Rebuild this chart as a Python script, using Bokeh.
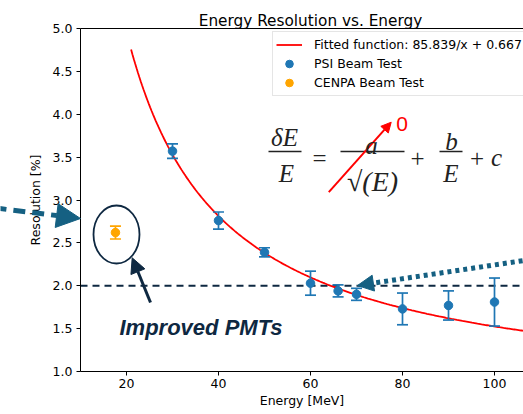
import numpy as np
from bokeh.plotting import figure
from bokeh.models import (Range1d, FixedTicker, LinearAxis, Label, Arrow, NormalHead,
                          Legend, LegendItem, ColumnDataSource)
from bokeh.embed import file_html
from bokeh.resources import INLINE

# ---------------- data ----------------
psi_energy = [30, 40, 50, 60, 66, 70, 80, 90, 100]
psi_resolution = [3.57, 2.76, 2.39, 2.03, 1.94, 1.90, 1.73, 1.77, 1.81]
psi_error = [0.085, 0.10, 0.053, 0.14, 0.07, 0.07, 0.185, 0.17, 0.28]

cenpa_energy = [17.6]
cenpa_resolution = [2.62]
cenpa_error = [0.075]

fit_a = 85.839
fit_c = 0.667
fit_energy_range = [21, 110]

target_resolution = 2.0

x_limits = [10, 110]
y_limits = [1.0, 5.0]
x_ticks = [20, 40, 60, 80, 100]
x_tick_labels = ["20", "40", "60", "80", "100"]
y_ticks = [1.0, 1.5, 2.0, 2.5, 3.0, 3.5, 4.0, 4.5, 5.0]
y_tick_labels = ["1.0", "1.5", "2.0", "2.5", "3.0", "3.5", "4.0", "4.5", "5.0"]

title_text = "Energy Resolution vs. Energy"
x_label = "Energy [MeV]"
y_label = "Resolution [%]"
fit_label = f"Fitted function: {fit_a}/x + {fit_c}"
psi_label = "PSI Beam Test"
cenpa_label = "CENPA Beam Test"
annotation_text = "Improved PMTs"

# ---------------- layout helpers ----------------
W, H = 523, 414
FL, FT, FB = 80, 28, 371          # axes box in pixels (matplotlib-like)
PX_PER_X = 4.6
PX_PER_Y = (FB - FT) / (y_limits[1] - y_limits[0])


def dx(px):
    return x_limits[0] + (px - FL) / PX_PER_X


def dy(py):
    return y_limits[0] + (FB - py) / PX_PER_Y


BLUE = "#1f77b4"
ORANGE = "#ffa500"
NAVY = "#0E2841"
TEAL = "#156082"
RED = "#ff0000"
FONT = "DejaVu Sans"

p = figure(width=W, height=H, x_range=Range1d(dx(0), dx(W)), y_range=Range1d(dy(H), dy(0)),
           output_backend="svg", toolbar_location=None, x_axis_location=None,
           y_axis_location=None, min_border=0)
p.min_border_left = p.min_border_right = p.min_border_top = p.min_border_bottom = 0
p.grid.visible = False
p.outline_line_color = None
p.background_fill_color = "white"
p.border_fill_color = "white"

xaxis = LinearAxis(fixed_location=y_limits[0], bounds=tuple(x_limits),
                   ticker=FixedTicker(ticks=x_ticks), axis_label=x_label)
yaxis = LinearAxis(fixed_location=x_limits[0], bounds=tuple(y_limits),
                   ticker=FixedTicker(ticks=y_ticks), axis_label=y_label)
xaxis.major_label_overrides = {t: l for t, l in zip(x_ticks, x_tick_labels)}
yaxis.major_label_overrides = {t: l for t, l in zip(y_ticks, y_tick_labels)}
for ax in (xaxis, yaxis):
    ax.axis_line_color = "black"
    ax.axis_line_width = 1
    ax.major_tick_line_color = "black"
    ax.major_tick_out = 4
    ax.major_tick_in = 0
    ax.minor_tick_line_color = None
    ax.major_label_text_font = FONT
    ax.major_label_text_font_size = "12.5px"
    ax.major_label_text_color = "black"
    ax.axis_label_text_font = FONT
    ax.axis_label_text_font_size = "12.5px"
    ax.axis_label_text_font_style = "normal"
    ax.axis_label_text_color = "black"
xaxis.major_label_standoff = 3
xaxis.axis_label_standoff = 2
yaxis.major_label_standoff = 4
yaxis.axis_label_standoff = 7
p.add_layout(xaxis, "below")
p.add_layout(yaxis, "left")

# top spine
p.line(x=x_limits, y=[y_limits[1]] * 2, line_color="black", line_width=1)

# title
p.add_layout(Label(x=dx(310), y=dy(20), text=title_text, text_align="center",
                   text_baseline="alphabetic", text_font=FONT, text_font_size="15.3px",
                   text_color="black"))

# target line
p.line(x=x_limits, y=[target_resolution] * 2, line_color=NAVY, line_width=2, line_dash="7 5")

# fitted curve
fx = np.linspace(fit_energy_range[0], fit_energy_range[1], 300)
fy = fit_a / fx + fit_c
fit_r = p.line(fx, fy, line_color=RED, line_width=1.8)


def errorbars(xs, ys, es, color):
    src = ColumnDataSource(dict(x=xs, y=ys,
                                lo=[y - e for y, e in zip(ys, es)],
                                hi=[y + e for y, e in zip(ys, es)]))
    p.segment(x0="x", y0="lo", x1="x", y1="hi", source=src, line_color=color, line_width=1.7)
    p.scatter(x="x", y="lo", source=src, marker="dash", size=11, line_color=color, line_width=1.7)
    p.scatter(x="x", y="hi", source=src, marker="dash", size=11, line_color=color, line_width=1.7)
    return p.scatter(x="x", y="y", source=src, size=8.5, fill_color=color, line_color=color)


psi_r = errorbars(psi_energy, psi_resolution, psi_error, BLUE)
cenpa_r = errorbars(cenpa_energy, cenpa_resolution, cenpa_error, ORANGE)

legend = Legend(items=[LegendItem(label=fit_label, renderers=[fit_r]),
                       LegendItem(label=psi_label, renderers=[psi_r]),
                       LegendItem(label=cenpa_label, renderers=[cenpa_r])],
                location=(272, H - 96), glyph_width=26, glyph_height=19,
                label_height=19, spacing=0, padding=3, margin=0, label_standoff=12,
                label_text_font=FONT, label_text_font_size="12.5px",
                label_text_color="black", border_line_color="#cccccc",
                border_line_width=1, background_fill_alpha=0.8)
p.add_layout(legend)

# ellipse around CENPA point
p.ellipse(x=dx(116), y=dy(234), width=46, height=58, width_units="screen",
          height_units="screen", fill_color=None, line_color=NAVY, line_width=1.8)

# arrows
p.add_layout(Arrow(x_start=dx(-6), y_start=dy(207.4), x_end=dx(80), y_end=dy(218),
                   line_color=TEAL, line_width=5, line_dash="12 7",
                   end=NormalHead(size=24, fill_color=TEAL, line_color=TEAL, line_width=1)))
p.add_layout(Arrow(x_start=dx(530), y_start=dy(259), x_end=dx(357), y_end=dy(285),
                   line_color=TEAL, line_width=5, line_dash="4 4",
                   end=NormalHead(size=16, fill_color=TEAL, line_color=TEAL, line_width=1)))
p.add_layout(Arrow(x_start=dx(150), y_start=dy(302), x_end=dx(131.7), y_end=dy(257.3),
                   line_color=NAVY, line_width=3,
                   end=NormalHead(size=15, fill_color=NAVY, line_color=NAVY, line_width=1)))
p.add_layout(Arrow(x_start=dx(328.3), y_start=dy(191.7), x_end=dx(390.7), y_end=dy(121.7),
                   line_color=RED, line_width=2,
                   end=NormalHead(size=10, fill_color=RED, line_color=RED, line_width=1)))

p.add_layout(Label(x=dx(401.7), y=dy(123), text="0", text_align="center",
                   text_baseline="alphabetic", text_font="Liberation Sans",
                   text_font_size="21px", text_color=RED))

p.add_layout(Label(x=dx(119), y=dy(327), text=annotation_text, text_align="left",
                   text_baseline="alphabetic", text_font="Liberation Sans",
                   text_font_style="bold italic", text_font_size="22px", text_color=NAVY))

# equation
EQ = "#222222"
EQF = "Liberation Serif"


def eq_text(px, py, t, style="italic", size="25px"):
    p.add_layout(Label(x=dx(px), y=dy(py), text=t, text_align="center",
                       text_baseline="alphabetic", text_font=EQF, text_font_style=style,
                       text_font_size=size, text_color=EQ))


eq_text(284, 137, "δE")
eq_text(286, 173, "E")
eq_text(319, 158, "=", "normal")
eq_text(371, 145, "a")
eq_text(372, 181, "√(E)", "italic", "28px")
eq_text(417, 158, "+", "normal")
eq_text(451, 141, "b")
eq_text(450.5, 173, "E")
eq_text(476.5, 158, "+", "normal")
eq_text(496, 157, "c")

bars = ColumnDataSource(dict(x0=[dx(268), dx(340), dx(439)], x1=[dx(301), dx(404), dx(462)],
                             y=[dy(151)] * 3))
p.segment(x0="x0", y0="y", x1="x1", y1="y", source=bars, line_color=EQ, line_width=1.5)

open("out.html", "w").write(file_html(p, INLINE))
